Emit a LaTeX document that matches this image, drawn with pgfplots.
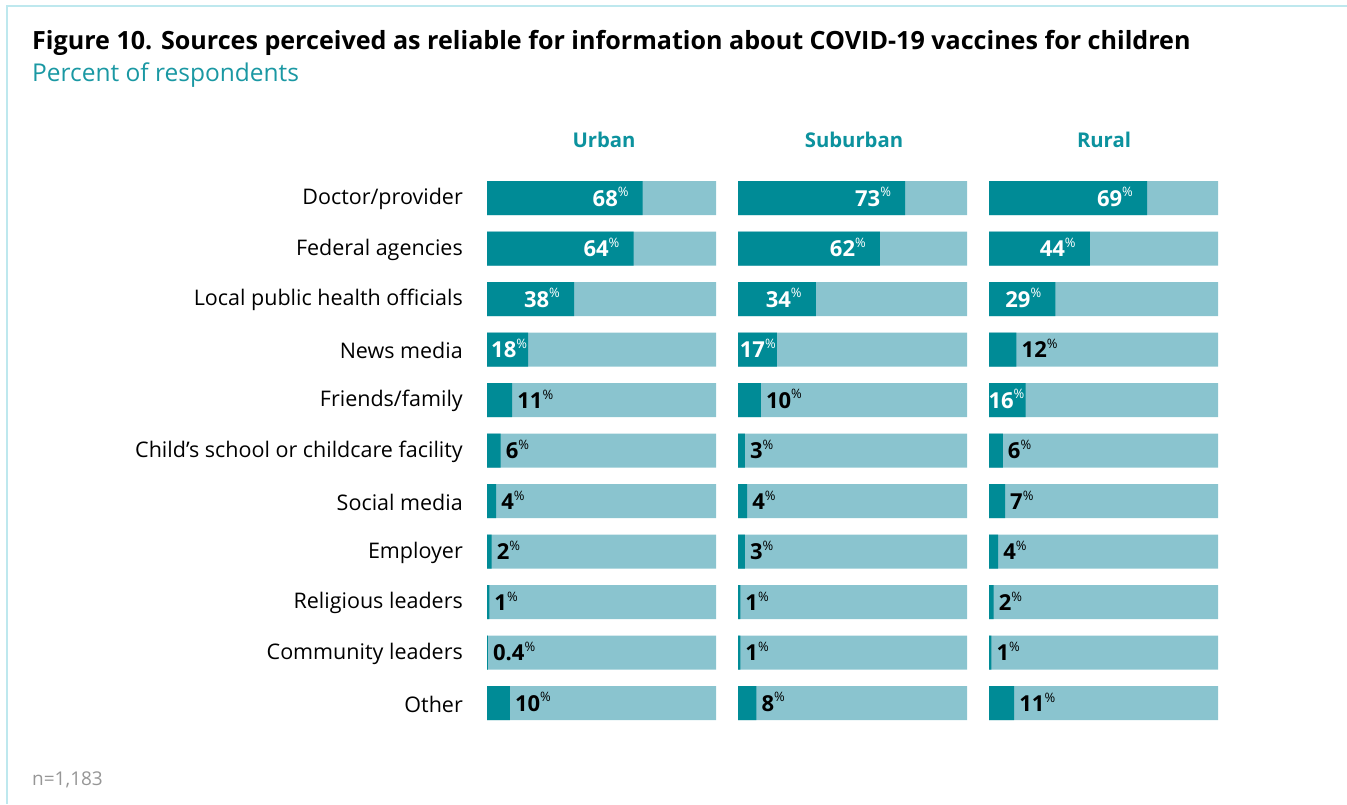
\documentclass[border=0pt]{standalone}
\usepackage{pgfplots}
\pgfplotsset{compat=1.18}
\usepackage{fontspec}
\setmainfont{Open Sans}
\definecolor{darkteal}{RGB}{0,139,150}
\definecolor{lightteal}{RGB}{138,196,207}
\definecolor{headteal}{RGB}{12,146,158}
\definecolor{subteal}{RGB}{26,152,163}
\definecolor{framec}{RGB}{190,232,238}
\definecolor{ngray}{RGB}{150,150,150}

\pgfplotsset{
  panel/.style={
    at={#1}, anchor=north west,
    scale only axis, width=229pt, height=555.5pt,
    xmin=0, xmax=100, ymin=-0.5, ymax=10.5, y dir=reverse,
    axis line style={draw=none}, major tick length=0pt, tick style={draw=none},
    xtick=\empty, ytick=\empty, clip=false,
  },
  fullbar/.style={xbar, bar width=34pt, bar shift=0pt, fill=lightteal, draw=none, forget plot},
  valbar/.style={xbar, bar width=34pt, bar shift=0pt, fill=darkteal, draw=none, forget plot},
  lblin/.style={draw=none, mark=none, forget plot, point meta=explicit symbolic,
    nodes near coords={\textbf{\pgfplotspointmeta}\raisebox{0.42em}{\fontsize{13}{13}\selectfont\%}},
    nodes near coords style={anchor=east, inner sep=0pt, xshift=#1, yshift=1pt, text=white, font=\fontsize{22}{22}\selectfont}},
  lblout/.style={draw=none, mark=none, forget plot, point meta=explicit symbolic,
    nodes near coords={\textbf{\pgfplotspointmeta}\raisebox{0.42em}{\fontsize{13}{13}\selectfont\%}},
    nodes near coords style={anchor=west, inner sep=0pt, xshift=5pt, yshift=1pt, text=black, font=\fontsize{22}{22}\selectfont}},
}

\begin{document}
\begin{tikzpicture}
\path[use as bounding box] (0,0) rectangle (1347pt,804pt);
\draw[framec, line width=2pt] (7pt,0) -- (7pt,798pt) -- (1347pt,798pt);
\node[anchor=base west, inner sep=0pt, font=\fontsize{25.1}{25.1}\selectfont\bfseries] at (32pt,754pt) {Figure 10. Sources perceived as reliable for information about COVID-19 vaccines for children};
\node[anchor=base west, inner sep=0pt, text=subteal, font=\fontsize{24.5}{24.5}\selectfont] at (32pt,722pt) {Percent of respondents};
\node[anchor=base west, inner sep=0pt, text=ngray, font=\fontsize{19}{19}\selectfont] at (32pt,19pt) {n=1,183};
\node[text=headteal, font=\fontsize{20.3}{20.3}\selectfont\bfseries] at (604pt,664pt) {Urban};
\node[text=headteal, font=\fontsize{20.3}{20.3}\selectfont\bfseries] at (854pt,664pt) {Suburban};
\node[text=headteal, font=\fontsize{20.3}{20.3}\selectfont\bfseries] at (1104pt,664pt) {Rural};

% Urban
\begin{axis}[panel={(487pt,631.25pt)},
  ytick={0,...,10},
  yticklabels={Doctor/provider,Federal agencies,Local public health officials,News media,Friends/family,Child’s school or childcare facility,Social media,Employer,Religious leaders,Community leaders,Other},
  yticklabel style={font=\fontsize{21.5}{21.5}\selectfont, inner sep=0pt, xshift=-24pt, yshift=-1pt}]
\addplot[fullbar] coordinates {(100,0) (100,1) (100,2) (100,3) (100,4) (100,5) (100,6) (100,7) (100,8) (100,9) (100,10)};
\addplot[valbar] coordinates {(68,0) (64,1) (38,2) (18,3) (11,4) (6,5) (4,6) (2,7) (1,8) (0.4,9) (10,10)};
\addplot[lblin=-14pt] table[meta=l] {
x y l
68 0 68
64 1 64
38 2 38
};
\addplot[lblin=-1pt] table[meta=l] {
x y l
18 3 18
};
\addplot[lblout] table[meta=l] {
x y l
11 4 11
6 5 6
4 6 4
2 7 2
1 8 1
0.4 9 0.4
10 10 10
};
\end{axis}

% Suburban
\begin{axis}[panel={(738pt,631.25pt)}]
\addplot[fullbar] coordinates {(100,0) (100,1) (100,2) (100,3) (100,4) (100,5) (100,6) (100,7) (100,8) (100,9) (100,10)};
\addplot[valbar] coordinates {(73,0) (62,1) (34,2) (17,3) (10,4) (3,5) (4,6) (3,7) (1,8) (1,9) (8,10)};
\addplot[lblin=-14pt] table[meta=l] {
x y l
73 0 73
62 1 62
34 2 34
};
\addplot[lblin=-1pt] table[meta=l] {
x y l
17 3 17
};
\addplot[lblout] table[meta=l] {
x y l
10 4 10
3 5 3
4 6 4
3 7 3
1 8 1
1 9 1
8 10 8
};
\end{axis}

% Rural
\begin{axis}[panel={(989pt,631.25pt)}]
\addplot[fullbar] coordinates {(100,0) (100,1) (100,2) (100,3) (100,4) (100,5) (100,6) (100,7) (100,8) (100,9) (100,10)};
\addplot[valbar] coordinates {(69,0) (44,1) (29,2) (12,3) (16,4) (6,5) (7,6) (4,7) (2,8) (1,9) (11,10)};
\addplot[lblin=-14pt] table[meta=l] {
x y l
69 0 69
44 1 44
29 2 29
};
\addplot[lblin=-1pt] table[meta=l] {
x y l
16 4 16
};
\addplot[lblout] table[meta=l] {
x y l
12 3 12
6 5 6
7 6 7
4 7 4
2 8 2
1 9 1
11 10 11
};
\end{axis}
\end{tikzpicture}
\end{document}
